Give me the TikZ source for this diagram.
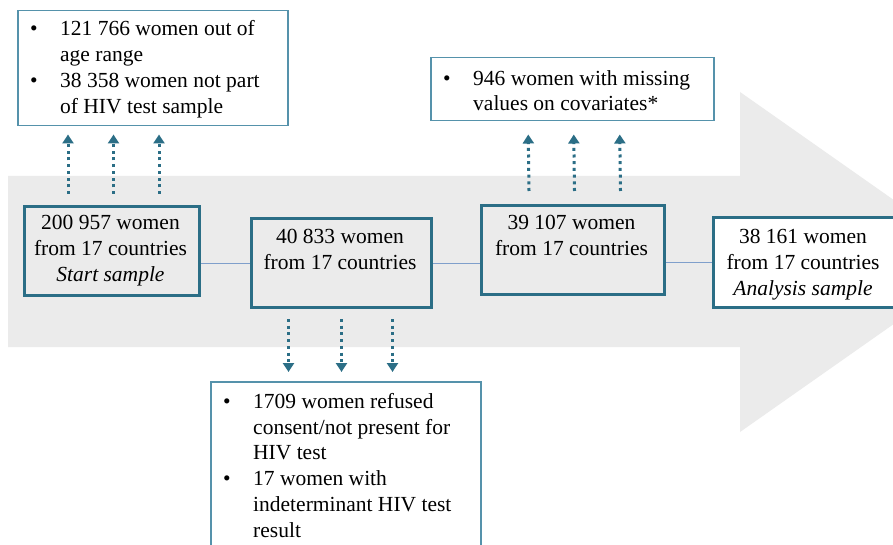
\documentclass[tikz,border=0pt]{standalone}
\usepackage{fontspec}
\setmainfont{Liberation Serif}
\usetikzlibrary{arrows.meta,calc}
\definecolor{tealA}{HTML}{2B6E86}
\definecolor{tealB}{HTML}{5592AB}
\definecolor{bandgray}{HTML}{EBEBEB}
\definecolor{connblue}{HTML}{7F9FCB}
\newcommand{\bul}{\makebox[30pt][l]{\textbullet}}
\newcommand{\ind}{\hspace*{30pt}}
\begin{document}
\begin{tikzpicture}[x=1pt,y=-1pt,
  fnt/.style={font=\fontsize{21.5}{25.8}\selectfont},
  mainbox/.style={draw=tealA,line width=3pt,inner sep=0pt,anchor=north west},
  listbox/.style={draw=tealB,line width=1.5pt,fill=white,inner sep=0pt,anchor=north west},
  boxtext/.style={fnt,align=center,inner sep=0pt,anchor=north,text=black},
  listtext/.style={fnt,align=left,inner sep=0pt,anchor=north west,text=black},
  conn/.style={draw=connblue,line width=0.9pt},
  dotarrow/.style={draw=tealA,line width=3pt,dash pattern=on 3pt off 3.7pt,
    -{Triangle[width=11pt,length=9pt]}}]
\useasboundingbox (0,0) rectangle (893,545);
\fill[white] (0,0) rectangle (893,545);
% background arrow
\fill[bandgray] (8,176) -- (740,176) -- (740,92) -- (982,262) -- (740,432) -- (740,347) -- (8,347) -- cycle;
% main boxes
\node[mainbox,minimum width=175pt,minimum height=89pt] (b1) at (23,205) {};
\node[mainbox,minimum width=180pt,minimum height=89pt] (b2) at (250,217) {};
\node[mainbox,minimum width=183pt,minimum height=89pt] (b3) at (480,204) {};
\node[mainbox,fill=white,minimum width=200pt,minimum height=90pt] (b4) at (712,216) {};
\node[boxtext] (t1) at (110.5,215.5) {200 957 women\\from 17 countries\\\textit{Start sample}};
\node[boxtext] (t2) at (340,229.5) {40 833 women\\from 17 countries};
\node[boxtext] (t3) at (571.5,215.5) {39 107 women\\from 17 countries};
\node[boxtext] (t4) at (803,229.5) {38 161 women\\from 17 countries\\\textit{Analysis sample}};
% connectors
\draw[conn] (b2.west -| b1.east) -- (b2.west);
\draw[conn] (b2.east) -- (b2.east -| b3.west);
\draw[conn] (b4.west -| b3.east) -- (b4.west);
% exclusion boxes
\node[listbox,minimum width=270pt,minimum height=115pt] (ex1) at (17,10) {};
\node[listbox,minimum width=283pt,minimum height=63pt] (ex2) at (430,57) {};
\node[listbox,minimum width=270pt,minimum height=180pt] (ex3) at (210,381) {};
\node[listtext] (l1) at (30,20.5) {\bul 121 766 women out of\\\ind age range\\\bul 38 358 women not part\\\ind of HIV test sample};
\node[listtext] (l2) at (443,70) {\bul 946 women with missing\\\ind values on covariates*};
\node[listtext] (l3) at (223,393) {\bul 1709 women refused\\\ind consent/not present for\\\ind HIV test\\\bul 17 women with\\\ind indeterminant HIV test\\\ind result};
% dotted arrows
\foreach \dx in {-44,1.5,47} {
  \draw[dotarrow] ($(b1.north)+(\dx,-11)$) -- ($(b1.north |- ex1.south)+(\dx,8)$);
}
\foreach \dx in {-44,1.5,47.5} {
  \draw[dotarrow] ($(b3.north)+(\dx,-13)$) -- ($(ex2.south)+(\dx,13)$);
}
\foreach \dx in {-53,0,51} {
  \draw[dotarrow] ($(b2.south)+(\dx,10)$) -- ($(b2.south |- ex3.north)+(\dx,-9)$);
}
\end{tikzpicture}
\end{document}
